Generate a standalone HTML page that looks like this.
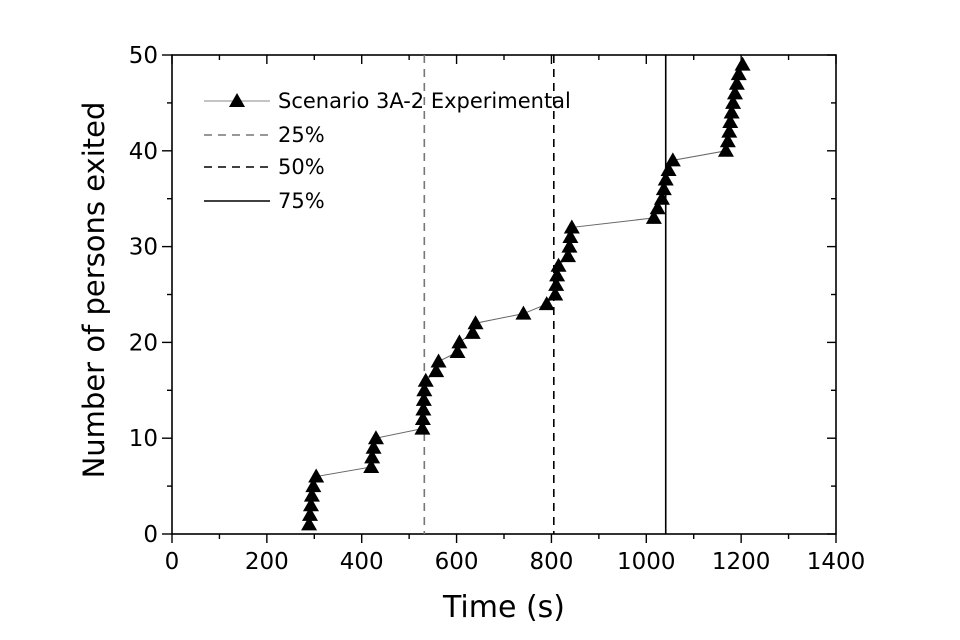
<!DOCTYPE html>
<html><head><meta charset="utf-8"><style>
body{margin:0;background:#fff;}
svg{display:block;font-family:"DejaVu Sans","Liberation Sans",sans-serif;}
</style></head><body>
<svg id="chart" width="960" height="640"></svg>
<script>
const timesS = [289,291,293,295,298,304,420,422,425,430,528,529,530,531,532,535,557,562,602,606,634,640,741,790,808,810,812,815,835,838,840,843,1016,1024,1033,1037,1041,1047,1056,1168,1172,1175,1177,1180,1183,1187,1191,1195,1203];
const personsExited = [1,2,3,4,5,6,7,8,9,10,11,12,13,14,15,16,17,18,19,20,21,22,23,24,25,26,27,28,29,30,31,32,33,34,35,36,37,38,39,40,41,42,43,44,45,46,47,48,49];
const percentileLabels = ["25%","50%","75%"];
const percentileTimes = [532,805,1041];
const xTicks = [0,200,400,600,800,1000,1200,1400];
const yTicks = [0,10,20,30,40,50];

const NS="http://www.w3.org/2000/svg";
const svg=document.getElementById('chart');
const L=172,R=836,T=55,B=534;
const xs=v=>L+(v/1400)*(R-L);
const ys=v=>B-(v/50)*(B-T);
function mk(tag,attrs,parent){const e=document.createElementNS(NS,tag);for(const k in attrs)e.setAttribute(k,attrs[k]);(parent||svg).appendChild(e);return e;}

const frame=mk('rect',{x:L,y:T,width:R-L,height:B-T,fill:'none',stroke:'#000','stroke-width':1.6});



for(let v=0;v<=1400;v+=100){
  const major=v%200===0;
  const t=mk('line',{x1:xs(v),x2:xs(v),y1:B,y2:B+(major?9:5),stroke:'#000','stroke-width':1.4});
  
  
  const t2=mk('line',{x1:xs(v),x2:xs(v),y1:T,y2:T+(major?9:5),stroke:'#000','stroke-width':1.4});
  
  
}
xTicks.forEach(v=>{
  const t=mk('text',{x:xs(v),y:B+35,'text-anchor':'middle','font-size':23});
  t.textContent=v;
  
  
});
for(let v=0;v<=50;v+=5){
  const major=v%10===0;
  const t=mk('line',{x1:L,x2:L-(major?10:5),y1:ys(v),y2:ys(v),stroke:'#000','stroke-width':1.4});
  
  
  const t2=mk('line',{x1:R,x2:R-(major?9:5),y1:ys(v),y2:ys(v),stroke:'#000','stroke-width':1.4});
  
  
}
yTicks.forEach(v=>{
  const t=mk('text',{x:L-14,y:ys(v)+8,'text-anchor':'end','font-size':23});
  t.textContent=v;
  
  
});
const xt=mk('text',{x:(L+R)/2,y:617,'text-anchor':'middle','font-size':30});
xt.textContent='Time (s)';


const yt=mk('text',{x:0,y:0,'text-anchor':'middle','font-size':29,transform:'translate(104,290) rotate(-90)'});
yt.textContent='Number of persons exited';



const pStyles=[{stroke:'#777',dash:'8,6'},{stroke:'#000',dash:'8,6'},{stroke:'#000',dash:''}];
percentileTimes.forEach((v,i)=>{
  const l=mk('line',{x1:xs(v),x2:xs(v),y1:T,y2:B,stroke:pStyles[i].stroke,'stroke-width':1.6,'stroke-dasharray':pStyles[i].dash});
  
  
});

const pts=timesS.map((t,i)=>xs(t)+','+ys(personsExited[i])).join(' ');
const pl=mk('polyline',{points:pts,fill:'none',stroke:'#666','stroke-width':1});


function tri(cx,cy,parent){return mk('polygon',{points:`${cx},${cy-8} ${cx-8},${cy+6} ${cx+8},${cy+6}`,fill:'#000'},parent);}
timesS.forEach((t,i)=>{
  const p=tri(xs(t),ys(personsExited[i]));
  
  
});

const lg=mk('g',{});


const rows=[101,135,167,201];
const labels=['Scenario 3A-2 Experimental'].concat(percentileLabels);
rows.forEach((y,i)=>{
  if(i===0){
    mk('line',{x1:204,x2:270,y1:y,y2:y,stroke:'#888','stroke-width':1},lg);
    tri(237,y,lg);
  } else {
    mk('line',{x1:204,x2:270,y1:y,y2:y,stroke:pStyles[i-1].stroke,'stroke-width':1.6,'stroke-dasharray':pStyles[i-1].dash},lg);
  }
  const tx=mk('text',{x:278,y:y+7,'font-size':21},lg);
  tx.textContent=labels[i];
  
  
});
</script>
</body></html>
